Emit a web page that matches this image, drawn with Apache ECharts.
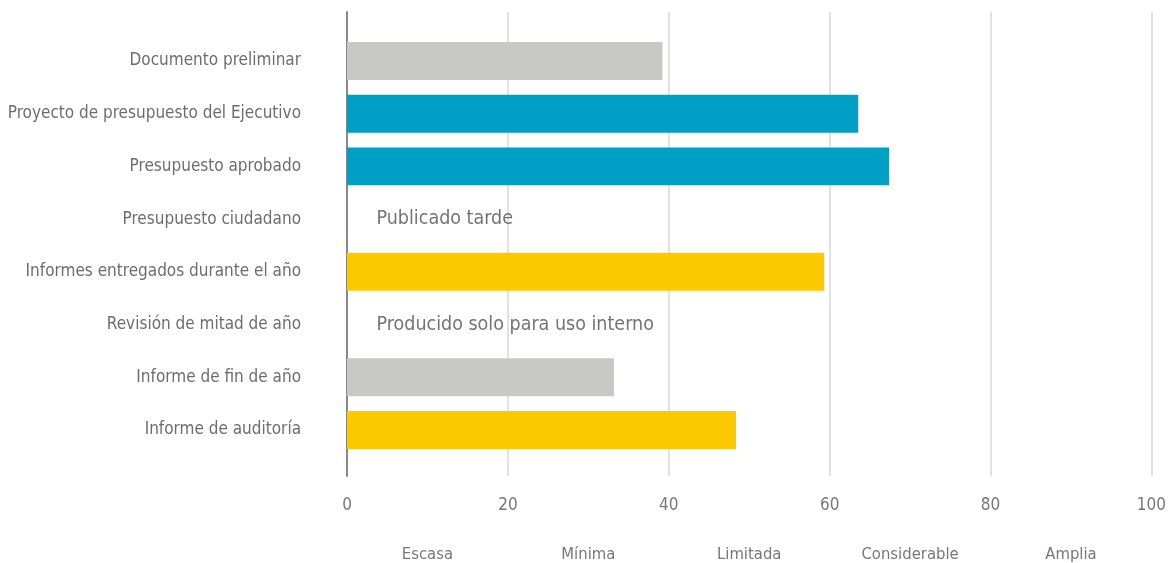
<!DOCTYPE html>
<html><head><meta charset="utf-8">
<script src="https://cdn.jsdelivr.net/npm/echarts@6/dist/echarts.min.js"></script>
<style>html,body{margin:0;padding:0;background:#fff}#c{width:1169px;height:563px}</style>
</head><body><div id="c"></div>
<script>
const categories = ["Documento preliminar","Proyecto de presupuesto del Ejecutivo","Presupuesto aprobado","Presupuesto ciudadano","Informes entregados durante el año","Revisión de mitad de año","Informe de fin de año","Informe de auditoría"];
const values = [39, 63.2, 67, null, 59, null, 33, 48.1];
const notes = ["", "", "", "Publicado tarde", "", "Producido solo para uso interno", "", ""];
const levelLabels = ["Escasa","Mínima","Limitada","Considerable","Amplia"];
const xTicks = [0,20,40,60,80,100];

const barColors = ["#c8c9c7","#00a0c6","#00a0c6","#c8c9c7","#fcc800","#c8c9c7","#c8c9c7","#fcc800"];
const FONT = "DejaVu Sans Condensed";

const chart = echarts.init(document.getElementById('c'));
chart.setOption({
  animation:false,
  textStyle:{fontFamily:FONT},
  grid:[
    {left:347,right:13,top:34.6,height:421.7},
    {left:347,right:13,top:12,bottom:87}
  ],
  xAxis:[
    {gridIndex:0,type:'value',min:0,max:100,show:false},
    {gridIndex:1,type:'value',min:0,max:100,interval:20,
      axisLine:{show:false},axisTick:{show:false},
      splitLine:{show:true,lineStyle:{color:'#d9d9d9',width:1.5}},
      axisLabel:{color:'#777',fontSize:17,margin:21,fontFamily:FONT,
        formatter:v=>xTicks.includes(v)?String(v):''}},
    {gridIndex:1,type:'category',data:levelLabels,position:'bottom',offset:70,
      boundaryGap:true,axisLine:{show:false},axisTick:{show:false},splitLine:{show:false},
      axisLabel:{color:'#777',fontSize:16.5,margin:0,fontFamily:FONT}}
  ],
  yAxis:[
    {gridIndex:0,type:'category',data:categories,inverse:true,
      axisLine:{show:false},axisTick:{show:false},
      axisLabel:{color:'#6d6d6d',fontSize:17,margin:46,fontFamily:FONT}},
    {gridIndex:1,type:'value',min:0,max:1,
      axisLine:{show:true,lineStyle:{color:'#888',width:2}},axisTick:{show:false},
      axisLabel:{show:false},splitLine:{show:false}}
  ],
  series:[
    {type:'bar',xAxisIndex:0,yAxisIndex:0,barCategoryGap:'28%',
      data:values.map((v,i)=>({value:v,itemStyle:{color:barColors[i]}}))},
    {type:'scatter',xAxisIndex:0,yAxisIndex:0,symbolSize:1,itemStyle:{color:'rgba(0,0,0,0)'},
      silent:true,
      data:notes.map((n,i)=>n?{value:[0,categories[i]],note:n}:null).filter(Boolean),
      label:{show:true,position:'right',distance:29,color:'#505050',fontSize:19.5,fontFamily:FONT,
        formatter:p=>p.data.note}}
  ]
});
</script></body></html>
